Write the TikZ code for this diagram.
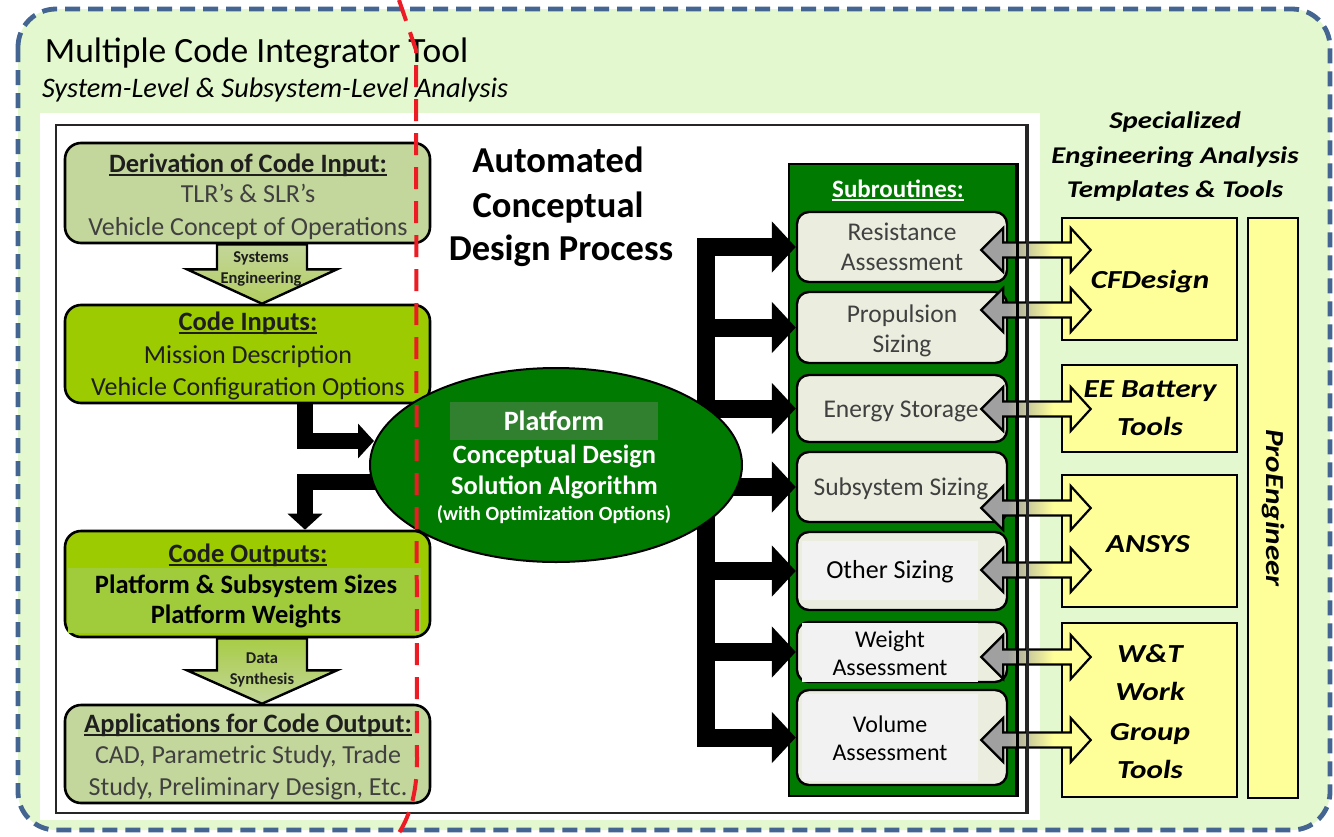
\documentclass[tikz,border=0pt]{standalone}
\usepackage{fontspec}
\setmainfont{Carlito}
\newfontfamily\widefont{Carlito}[FakeStretch=1.2]
\usetikzlibrary{arrows.meta,shapes.geometric,calc}

\definecolor{frameblue}{RGB}{68,101,146}
\definecolor{panelgreen}{RGB}{227,248,207}
\definecolor{olive}{RGB}{195,214,155}
\definecolor{olivedeep}{RGB}{180,206,96}
\definecolor{lime}{RGB}{155,203,0}
\definecolor{limesoft}{RGB}{160,203,58}
\definecolor{limehead}{RGB}{168,204,70}
\definecolor{forest}{RGB}{0,122,0}
\definecolor{forestlight}{RGB}{48,128,48}
\definecolor{paper}{RGB}{235,238,222}
\definecolor{overlay}{RGB}{242,242,242}
\definecolor{butter}{RGB}{255,255,153}
\definecolor{slate}{RGB}{64,64,64}
\definecolor{ink}{RGB}{30,30,30}
\definecolor{redline}{RGB}{237,28,36}
\definecolor{arrowgray}{RGB}{160,160,160}

% gray-to-yellow fill of the two-way block arrows (path spans 25bp..75bp)
\pgfdeclarehorizontalshading{grayyellow}{100bp}{color(0bp)=(arrowgray); color(37bp)=(arrowgray); color(58bp)=(butter); color(100bp)=(butter)}

\newcommand\fsz[2]{\fontsize{#1pt}{#2pt}\selectfont}
% underline sitting just below the baseline
\newcommand\uln[1]{\setbox0=\hbox{#1}\rlap{\rule[-3.6pt]{\wd0}{1.8pt}}\box0}

% two-way block arrow between a subroutine box and a tool box at height #3
\newcommand\twoway[3]{%
  \coordinate (tw-l) at ($(#1.east |- 0,#3)+(-27,0)$);
  \coordinate (tw-r) at ($(#2.west |- 0,#3)+(30,0)$);
  \shadedraw[twoway] (tw-l) -- ++(22,-22) -- ++(0,14.5) -- ($(tw-r)+(-20,-7.5)$)
    -- ++(0,-14.5) -- (tw-r) -- ++(-20,22) -- ++(0,-14.5) -- ($(tw-l)+(22,7.5)$)
    -- ++(0,14.5) -- cycle;
}

\begin{document}
\begin{tikzpicture}[x=1pt,y=-1pt,line join=miter,
  lbl/.style={anchor=base,inner sep=0pt,outer sep=0pt},
  lbox/.style={draw=black,line width=2.6pt,rounded corners=16pt,inner sep=0pt,minimum width=365pt},
  hdr/.style={lbl,font=\fsz{26.5}{30}\bfseries,text=ink},
  body/.style={lbl,font=\fsz{26}{30},text=slate},
  subbox/.style={draw=black,line width=2.4pt,rounded corners=12pt,fill=paper,minimum width=210pt,inner sep=0pt},
  subtxt/.style={lbl,font=\fsz{25.5}{30},text=slate},
  ovl/.style={fill=overlay,minimum width=176pt,inner sep=0pt},
  ovltxt/.style={lbl,font=\fsz{24}{28},text=black},
  toolbox/.style={draw=black,line width=2.6pt,fill=butter,inner sep=0pt},
  tooltxt/.style={lbl,font=\widefont\fsz{26}{30}\bfseries\itshape,text=black},
  fat/.style={draw=black,line width=16pt,-{Triangle[width=34pt,length=16pt]}},
  bus/.style={draw=black,line width=18pt,-{Triangle[width=50pt,length=24pt]}},
  blockarrow/.style={draw=black,line width=2.4pt},
  arrowtxt/.style={lbl,font=\fsz{16.5}{18}\bfseries,text=ink},
  twoway/.style={draw=black,line width=2.2pt,shading=grayyellow},
  cutline/.style={draw=redline,line width=4pt,dash pattern=on 22pt off 12pt}]

\useasboundingbox (0,0) rectangle (1334,836);
\fill[white] (0,0) rectangle (1334,836);

% outer dashed panel
\draw[frameblue,line width=4.8pt,dash pattern=on 15pt off 8pt,fill=panelgreen,rounded corners=38pt]
  (18,9) rectangle (1330,830);

\node[lbl,anchor=base west,font=\fsz{35.5}{40},text=black] (title) at (45,62) {Multiple Code Integrator Tool};
\node[lbl,anchor=base west,font=\fsz{28.3}{32}\itshape,text=black] (subtitle) at (42,97) {System-Level \& Subsystem-Level Analysis};

% white working area and its frame
\fill[white] (40,113) rectangle (1040,820);
\node[draw=black!85,line width=2.4pt,minimum width=970pt,minimum height=688pt,inner sep=0pt,anchor=north west] (frame) at (55,124) {};

% ---- left column -------------------------------------------------
\node[lbox,fill=olive,minimum height=100pt] (d1) at (247.5,193) {};
\node[hdr] (d1h) at (248,172) {\uln{Derivation of Code Input:}};
\node[body] (d1a) at (248,202) {TLR’s \& SLR’s};
\node[body] (d1b) at (248,235) {Vehicle Concept of Operations};

\node[lbox,fill=lime,minimum height=98pt] (c2) at (247.5,354) {};
\node[hdr] (c2h) at (248,330) {\uln{Code Inputs:}};
\node[body,text=ink] (c2a) at (248,363) {Mission Description};
\node[body,text=ink] (c2b) at (248,395) {Vehicle Configuration Options};

\node[lbox,fill=lime,minimum height=106pt] (c3) at (247.5,584) {};
\fill[limesoft] (68,568) rectangle (421,633);
\node[hdr] (c3h) at (248,562) {\uln{Code Outputs:}};
\node[hdr,text=black] (c3a) at (246,593) {Platform \& Subsystem Sizes};
\node[hdr,text=black] (c3b) at (246,623) {Platform Weights};

\node[lbox,fill=olive,minimum height=98pt] (d4) at (247.5,754) {};
\node[hdr] (d4h) at (248,732) {\uln{Applications for Code Output:}};
\node[body] (d4a) at (248,763) {CAD, Parametric Study, Trade};
\node[body] (d4b) at (248,795) {Study, Preliminary Design, Etc.};

% block arrows between the left boxes
\coordinate (se-top) at ($(d1.south)+(14.5,0)$);
\coordinate (se-tip) at ($(c2.north)+(14.5,0)$);
\shadedraw[blockarrow,top color=olive,bottom color=olivedeep]
  ($(se-top)+(-45,0)$) -- ($(se-top)+(45,0)$) -- ($(se-top)+(45,25)$) -- ($(se-top)+(75,25)$)
  -- (se-tip) -- ($(se-top)+(-75,25)$) -- ($(se-top)+(-45,25)$) -- cycle;
\node[arrowtxt] (se1) at (261,262) {Systems};
\node[arrowtxt] (se2) at (261,283) {Engineering};

\coordinate (ds-top) at ($(c3.south)+(14.5,0)$);
\coordinate (ds-tip) at ($(d4.north)+(14.5,0)$);
\shadedraw[blockarrow,top color=limehead,bottom color=olive]
  ($(ds-top)+(-45,0)$) -- ($(ds-top)+(45,0)$) -- ($(ds-top)+(45,32)$) -- ($(ds-top)+(75,32)$)
  -- (ds-tip) -- ($(ds-top)+(-75,32)$) -- ($(ds-top)+(-45,32)$) -- cycle;
\node[arrowtxt] (ds1) at (262,663) {Data};
\node[arrowtxt] (ds2) at (262,684) {Synthesis};

% ---- process title -----------------------------------------------
\node[lbl,font=\fsz{36.5}{44}\bfseries,text=black] (pt1) at (558,172) {Automated};
\node[lbl,font=\fsz{36.5}{44}\bfseries,text=black] (pt2) at (558,217) {Conceptual};
\node[lbl,font=\fsz{36.5}{44}\bfseries,text=black] (pt3) at (561,260) {Design Process};

% ---- subroutines -------------------------------------------------
\node[draw=black,line width=2.4pt,fill=forest,minimum width=227pt,minimum height=632pt,inner sep=0pt,anchor=north west] (sub) at (788,163) {};
\node[lbl,font=\fsz{25}{28}\bfseries,text=white] (subh) at (898,197) {\uln{Subroutines:}};

\node[subbox,minimum height=70pt] (s1) at (902,247) {};
\node[subbox,minimum height=71pt] (s2) at (902,327.5) {};
\node[subbox,minimum height=67pt] (s3) at (902,408.5) {};
\node[subbox,minimum height=70pt] (s4) at (902,487) {};
\node[subbox,minimum height=78pt] (s5) at (902,571) {};
\node[subbox,minimum height=60pt] (s6) at (902,652) {};
\node[subbox,minimum height=95pt] (s7) at (902,737.5) {};

% feed lines from the algorithm to every subroutine
\coordinate (busx) at (706,0);
\draw[bus,{Triangle[width=50pt,length=24pt]}-{Triangle[width=50pt,length=24pt]}]
  (s7.west) -| (busx |- s1.west) -- (s1.west);
\foreach \s in {s2,s3,s4,s5,s6}
  \draw[bus] (busx |- \s.west) -- (\s.west);

% inputs into and outputs out of the algorithm
\coordinate (inTip) at (374,441);
\draw[fat] ($(c2.south)+(57.5,0)$) |- (inTip);
\coordinate (outStart) at (390,482);
\draw[fat] (outStart) -| ($(c3.north)+(57.5,0)$);

% ---- solution algorithm ------------------------------------------
\node[ellipse,draw=black,line width=2pt,fill=forest,minimum width=372pt,minimum height=194pt,inner sep=0pt] (algo) at (556,465) {};
\node[fill=forestlight,minimum width=208pt,minimum height=38pt,inner sep=0pt,text=white,
      font=\fsz{28}{30}\bfseries,text height=18pt,text depth=0pt] (plat) at (554,421) {Platform};
\node[lbl,font=\fsz{26.4}{30}\bfseries,text=white] (al1) at (554.5,463) {Conceptual Design};
\node[lbl,font=\fsz{26.4}{30}\bfseries,text=white] (al2) at (554.5,494) {Solution Algorithm};
\node[lbl,font=\fsz{20.2}{24}\bfseries,text=white] (al3) at (554,520) {(with Optimization Options)};

% subroutine labels
\node[subtxt] (s1a) at (902,240) {Resistance};
\node[subtxt] (s1b) at (902,270) {Assessment};
\node[subtxt] (s2a) at (902,322) {Propulsion};
\node[subtxt] (s2b) at (902,352) {Sizing};
\node[subtxt] (s3a) at (901,417) {Energy Storage};
\node[subtxt] (s4a) at (901,495) {Subsystem Sizing};

\node[ovl,minimum height=59pt] (o5) at (890,570.5) {};
\node[ovl,minimum height=59pt] (o6) at (890,652.5) {};
\node[ovl,minimum height=87pt] (o7) at (890,737.5) {};
\node[ovltxt,font=\fsz{26}{30}] (o5a) at (890,578) {Other Sizing};
\node[ovltxt] (o6a) at (890,647) {Weight};
\node[ovltxt] (o6b) at (890,675) {Assessment};
\node[ovltxt] (o7a) at (890,732) {Volume};
\node[ovltxt] (o7b) at (890,760) {Assessment};

% ---- analysis tools ----------------------------------------------
\node[lbl,font=\widefont\fsz{24}{28}\bfseries\itshape,text=black] (th1) at (1175,128) {Specialized};
\node[lbl,font=\widefont\fsz{24}{28}\bfseries\itshape,text=black] (th2) at (1175,163) {Engineering Analysis};
\node[lbl,font=\widefont\fsz{24}{28}\bfseries\itshape,text=black] (th3) at (1175,197) {Templates \& Tools};

\node[toolbox,minimum width=175pt,minimum height=122pt] (cf) at (1149.5,279) {};
\node[toolbox,minimum width=175pt,minimum height=87pt] (ee) at (1149.5,408.5) {};
\node[toolbox,minimum width=175pt,minimum height=132pt] (an) at (1149.5,541) {};
\node[toolbox,minimum width=175pt,minimum height=174pt] (wt) at (1149.5,710) {};
\node[toolbox,minimum width=50pt,minimum height=580pt] (pro) at (1273,508) {};

\node[tooltxt] (cfa) at (1150,288) {CFDesign};
\node[tooltxt] (eea) at (1150,397) {EE Battery};
\node[tooltxt] (eeb) at (1150,435) {Tools};
\node[tooltxt] (ana) at (1148,552) {ANSYS};
\node[tooltxt] (wta) at (1150,662) {W\&T};
\node[tooltxt] (wtb) at (1150,700) {Work};
\node[tooltxt] (wtc) at (1150,740) {Group};
\node[tooltxt] (wtd) at (1150,778) {Tools};
\node[inner sep=0pt,rotate=-90,font=\widefont\fsz{26}{30}\bfseries\itshape,text=black] (proa) at (pro.center) {ProEngineer};

% ---- data exchange between subroutines and tools -----------------
\twoway{s1}{cf}{250}
\twoway{s2}{cf}{310}
\twoway{s3}{ee}{409}
\twoway{s4}{an}{508}
\twoway{s5}{an}{570}
\twoway{s6}{wt}{657}
\twoway{s7}{wt}{740}
\draw[line width=2.4pt] (sub.north east) -- (sub.south east);
\draw[black!85,line width=2.4pt] (frame.north east) -- (frame.south east);

% ---- red cut line ------------------------------------------------
\draw[cutline] (399,0) -- (416,50) -- (417,760) .. controls (417,795) and (409,818) .. (397,836);

\end{tikzpicture}
\end{document}
